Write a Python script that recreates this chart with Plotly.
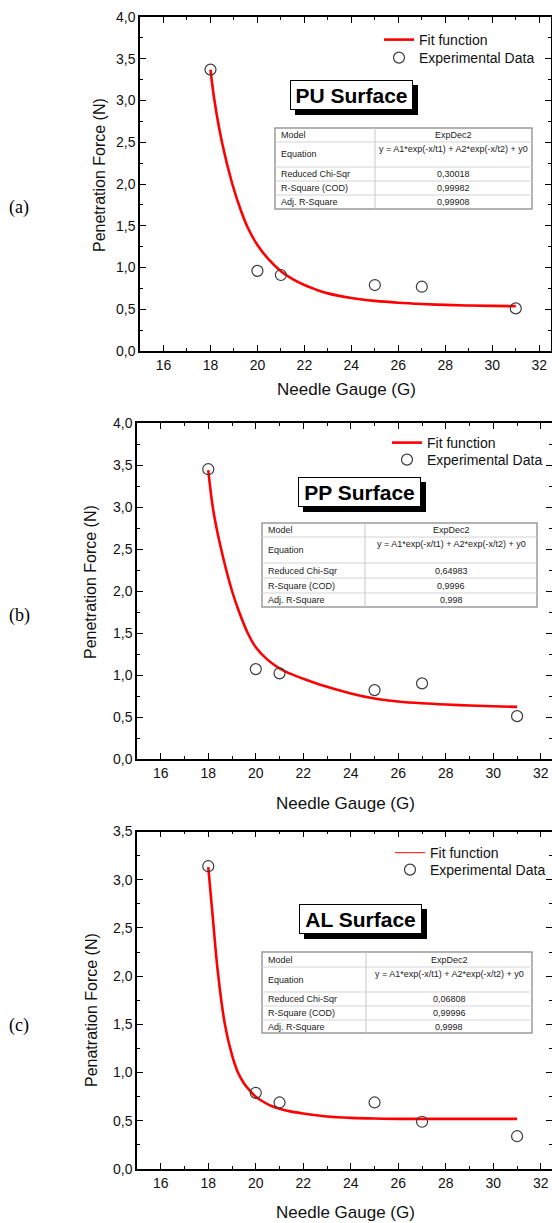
import plotly.graph_objects as go

# ---------------- data ----------------
gauge = [18, 20, 21, 25, 27, 31]
pu_force = [3.37, 0.96, 0.91, 0.79, 0.77, 0.51]
pp_force = [3.45, 1.07, 1.02, 0.82, 0.90, 0.51]
al_force = [3.14, 0.79, 0.69, 0.69, 0.49, 0.34]

pu_fit_x = [18, 18.17, 18.49, 18.93, 19.3, 19.6, 20, 20.5, 21, 21.5, 22, 22.5, 23, 24, 25, 26, 27, 28, 29, 30, 31]
pu_fit_y = [3.37, 3.0, 2.5, 2.0, 1.68, 1.47, 1.27, 1.09, 0.955, 0.86, 0.79, 0.735, 0.69, 0.635, 0.60, 0.578, 0.563, 0.552, 0.545, 0.54, 0.537]

pp_fit_x = [18, 18.2, 18.5, 19.0, 19.3, 19.66, 20, 20.5, 21, 21.5, 22, 22.5, 23, 24, 25, 26, 27, 28, 29, 30, 31]
pp_fit_y = [3.44, 2.98, 2.55, 2.0, 1.75, 1.5, 1.33, 1.18, 1.08, 1.01, 0.955, 0.905, 0.86, 0.78, 0.72, 0.685, 0.663, 0.648, 0.637, 0.628, 0.62]

al_fit_x = [18, 18.2, 18.4, 18.7, 19.0, 19.25, 19.5, 19.8, 20.0, 20.3, 20.6, 21, 21.5, 22, 23, 24, 25, 26, 28, 31]
al_fit_y = [3.13, 2.58, 2.05, 1.50, 1.18, 1.00, 0.89, 0.80, 0.75, 0.70, 0.66, 0.625, 0.595, 0.575, 0.545, 0.53, 0.523, 0.52, 0.52, 0.52]

panel_labels = ["(a)", "(b)", "(c)"]
surface_titles = ["PU Surface", "PP Surface", "AL Surface"]
y_titles = ["Penetration Force (N)", "Penetration Force (N)", "Penatration Force (N)"]
x_title = "Needle Gauge (G)"
legend_names = ["Fit function", "Experimental Data"]

table_labels = ["Model", "Equation", "Reduced Chi-Sqr", "R-Square (COD)", "Adj. R-Square"]
model_name = "ExpDec2"
equation = "y = A1*exp(-x/t1) + A2*exp(-x/t2) + y0"
chi_sqr = ["0,30018", "0,64983", "0,06808"]
r_square = ["0,99982", "0,9996", "0,99996"]
adj_r_square = ["0,99908", "0,998", "0,9998"]

# ---------------- layout helpers ----------------
W, H = 552, 1223
FONT = "Liberation Sans, Arial, sans-serif"


def X(px):
    return px / W


def Y(py):
    return 1 - py / H


panels = [
    dict(xd=(140, 551), yd=(17, 351), xr=[15, 32.5], yr=[0, 4.0],
         force=pu_force, fx=pu_fit_x, fy=pu_fit_y,
         leg=(379, 39, 57), box=(290, 80, 413, 110), ytc=(99, 175), xtc=(346, 390), lab=(19, 208),
         table=(275, 128, 532, 209, 375, [142, 167, 181, 195])),
    dict(xd=(137, 552), yd=(423, 759), xr=[15, 32.47], yr=[0, 4.0],
         force=pp_force, fx=pp_fit_x, fy=pp_fit_y,
         leg=(387, 442, 459), box=(298, 477, 421, 507), ytc=(90, 582), xtc=(345, 803), lab=(19, 615),
         table=(262, 523, 537, 607, 365, [537, 563, 578, 593])),
    dict(xd=(137, 552), yd=(831.5, 1169), xr=[15, 32.47], yr=[0, 3.5],
         force=al_force, fx=al_fit_x, fy=al_fit_y,
         leg=(390, 852, 869), box=(299, 904, 422, 934), ytc=(91, 1010), xtc=(345, 1212), lab=(19, 1025),
         table=(262, 952, 532, 1033, 366, [967, 992, 1006, 1020])),
]

fig = go.Figure()
layout = dict(
    width=W, height=H, margin=dict(l=0, r=0, t=0, b=0, autoexpand=False),
    paper_bgcolor="white", plot_bgcolor="white",
    separators=",.", showlegend=True,
    font=dict(family=FONT, color="black"),
)
shapes = []
annotations = []

for i, p in enumerate(panels):
    n = "" if i == 0 else str(i + 1)
    xa, ya = "x" + n, "y" + n
    leg_fit = "legend" + ("" if i == 0 else str(2 * i + 1))
    leg_dat = "legend" + str(2 * i + 2)

    # fit curve
    if i < 2:
        fig.add_trace(go.Scatter(
            x=p["fx"], y=p["fy"], mode="lines", line=dict(color="#ff0000", width=2.6, shape="spline"),
            name=legend_names[0], xaxis=xa, yaxis=ya, legend=leg_fit))
    else:
        fig.add_trace(go.Scatter(
            x=p["fx"], y=p["fy"], mode="lines", line=dict(color="#ff0000", width=2.6, shape="spline"),
            name=legend_names[0], xaxis=xa, yaxis=ya, showlegend=False))
        fig.add_trace(go.Scatter(
            x=[None], y=[None], mode="lines", line=dict(color="#ff3030", width=1.2),
            name=legend_names[0], xaxis=xa, yaxis=ya, legend=leg_fit))
    # experimental data
    fig.add_trace(go.Scatter(
        x=gauge, y=p["force"], mode="markers",
        marker=dict(symbol="circle-open", size=11, color="#3c3c3c", line=dict(width=1.2, color="#3c3c3c")),
        name=legend_names[1], xaxis=xa, yaxis=ya, legend=leg_dat))

    axis_common = dict(
        showline=True, linecolor="black", linewidth=1.5, mirror="allticks",
        ticks="inside", ticklen=6, tickwidth=1, tickcolor="black",
        showgrid=False, zeroline=False, automargin=False,
        tickfont=dict(family=FONT, size=14, color="#111"),
    )
    layout["xaxis" + n] = dict(
        axis_common, domain=[X(p["xd"][0]), X(p["xd"][1])], range=p["xr"],
        tick0=16, dtick=2, anchor=ya,
        minor=dict(ticks="inside", ticklen=3, tickwidth=1, tickcolor="black", dtick=1, tick0=15),
    )
    layout["yaxis" + n] = dict(
        axis_common, domain=[Y(p["yd"][1]), Y(p["yd"][0])], range=p["yr"],
        tick0=0, dtick=0.5, tickformat=".1f", anchor=xa,
        minor=dict(ticks="inside", ticklen=3, tickwidth=1, tickcolor="black", dtick=0.25, tick0=0),
    )
    lx, lfit, ldat = p["leg"]
    for lname, ly in ((leg_fit, lfit), (leg_dat, ldat)):
        layout[lname] = dict(
            x=X(lx), y=Y(ly - 15), xanchor="left", yanchor="top",
            xref="paper", yref="paper", bgcolor="rgba(0,0,0,0)", borderwidth=0,
            font=dict(family=FONT, size=14, color="#111"), itemwidth=30, tracegroupgap=0,
        )

    # axis titles
    annotations.append(dict(x=X(p["xtc"][0]), y=Y(p["xtc"][1]), xref="paper", yref="paper",
                            text=x_title, showarrow=False, font=dict(family=FONT, size=17, color="#111"),
                            xanchor="center", yanchor="middle"))
    annotations.append(dict(x=X(p["ytc"][0]), y=Y(p["ytc"][1]), xref="paper", yref="paper",
                            text=y_titles[i], showarrow=False, textangle=-90,
                            font=dict(family=FONT, size=16, color="#111"),
                            xanchor="center", yanchor="middle"))
    # panel label
    annotations.append(dict(x=X(p["lab"][0]), y=Y(p["lab"][1]), xref="paper", yref="paper",
                            text=panel_labels[i], showarrow=False,
                            font=dict(family="Liberation Serif, Times New Roman, serif", size=18, color="black"),
                            xanchor="center", yanchor="middle"))

    # title box with shadow
    bx0, by0, bx1, by1 = p["box"]
    shapes.append(dict(type="rect", xref="paper", yref="paper",
                       x0=X(bx0 + 5), x1=X(bx1 + 5), y0=Y(by1 + 5), y1=Y(by0 + 5),
                       fillcolor="black", line=dict(width=0), layer="above"))
    annotations.append(dict(x=X((bx0 + bx1) / 2), y=Y((by0 + by1) / 2), xref="paper", yref="paper",
                            text="<b>" + surface_titles[i] + "</b>", showarrow=False,
                            font=dict(family=FONT, size=21, color="black"),
                            bgcolor="white", bordercolor="black", borderwidth=1, borderpad=0,
                            width=bx1 - bx0 - 2, height=by1 - by0 - 2,
                            xanchor="center", yanchor="middle"))

    # statistics table
    tx0, ty0, tx1, ty1, tcol, rows = p["table"]
    shapes.append(dict(type="rect", xref="paper", yref="paper",
                       x0=X(tx0), x1=X(tx1), y0=Y(ty1), y1=Y(ty0),
                       fillcolor="white", line=dict(color="#9a9a9a", width=1.5), layer="above"))
    shapes.append(dict(type="line", xref="paper", yref="paper",
                       x0=X(tcol), x1=X(tcol), y0=Y(ty1), y1=Y(ty0),
                       line=dict(color="#c8c8c8", width=1), layer="above"))
    for r in rows:
        shapes.append(dict(type="line", xref="paper", yref="paper",
                           x0=X(tx0), x1=X(tx1), y0=Y(r), y1=Y(r),
                           line=dict(color="#d4d4d4", width=1), layer="above"))
    bounds = [ty0] + rows + [ty1]
    values = [model_name, equation, chi_sqr[i], r_square[i], adj_r_square[i]]
    for k in range(5):
        cy = (bounds[k] + bounds[k + 1]) / 2
        annotations.append(dict(x=X(tx0 + 4), y=Y(cy), xref="paper", yref="paper",
                                text=table_labels[k], showarrow=False,
                                font=dict(family=FONT, size=9, color="#222"),
                                xanchor="left", yanchor="middle"))
        vy = bounds[k] + 7 if k == 1 else cy
        annotations.append(dict(x=X((tcol + tx1) / 2), y=Y(vy), xref="paper", yref="paper",
                                text=values[k], showarrow=False,
                                font=dict(family=FONT, size=9, color="#222"),
                                xanchor="center", yanchor="middle"))

layout["shapes"] = shapes
layout["annotations"] = annotations
fig.update_layout(**layout)
fig.write_html("out.html", config={"displayModeBar": False},
               post_script="document.body.style.margin='0';document.body.style.overflow='hidden';")
